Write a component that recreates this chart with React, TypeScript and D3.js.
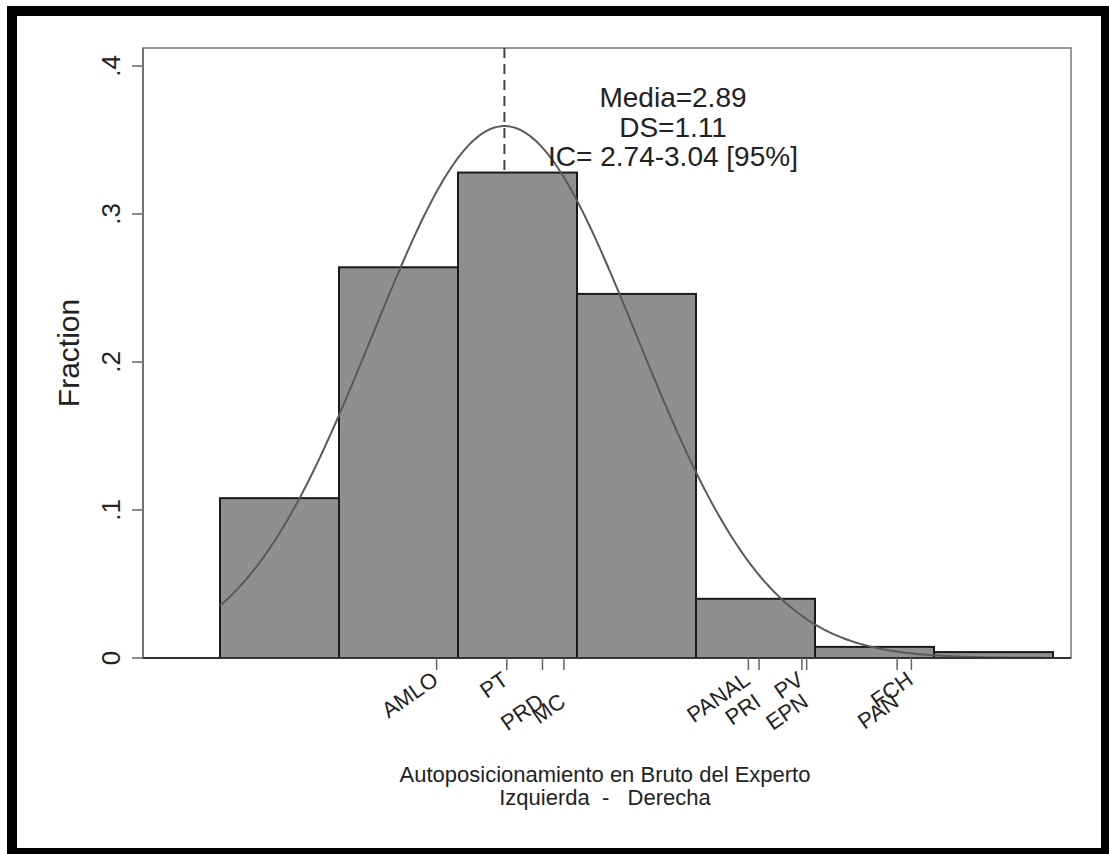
import React from 'react';
import * as d3 from 'd3';

// histogram bins (centered on 1..7, width 1) and their fractions
const binCenters = [1, 2, 3, 4, 5, 6, 7];
const fractions = [0.108, 0.264, 0.328, 0.246, 0.04, 0.0075, 0.004];

// party / candidate placements on the scale
const parties = ['AMLO', 'PT', 'PRD', 'MC', 'PANAL', 'PRI', 'PV', 'EPN', 'PAN', 'FCH'];
const partyPos = [2.32, 2.91, 3.21, 3.39, 4.94, 5.03, 5.39, 5.43, 6.19, 6.31];
const lowerRow = ['PRD', 'MC', 'PRI', 'EPN', 'PAN'];

const yTicks = [0, 0.1, 0.2, 0.3, 0.4];
const yTickLabels = ['0', '.1', '.2', '.3', '.4'];

const media = 2.89;
const ds = 1.11;
const annotation = ['Media=2.89', 'DS=1.11', 'IC= 2.74-3.04 [95%]'];
const xTitle = ['Autoposicionamiento en Bruto del Experto', 'Izquierda  -   Derecha'];
const yTitle = 'Fraction';

const W = 1109;
const H = 854;
const font = '"Liberation Sans", Arial, sans-serif';

export default function App() {
  const left = 143, right = 1071, top = 48, bottom = 658;

  const x = d3.scaleLinear().domain([0.5, 7.5]).range([220, 1053]);
  const y = d3.scaleLinear().domain([0, 0.4]).range([bottom, 66]);

  const binW = 1;
  const normal = (v: number) =>
    (binW / (ds * Math.sqrt(2 * Math.PI))) * Math.exp(-0.5 * ((v - media) / ds) ** 2);
  const curvePts = d3.range(0.5, 7.5001, 0.02).map(v => [v, normal(v)] as [number, number]);
  const line = d3.line<[number, number]>().x(d => x(d[0])).y(d => y(d[1]));

  return (
    <svg width={W} height={H} style={{ position: 'absolute', left: 0, top: 0, display: 'block' }}>
      <rect x={0} y={0} width={W} height={H} fill="#fff" />
      <rect x={7} y={6} width={1102} height={848} fill="#000" />
      <rect x={17} y={16} width={1084} height={832} fill="#fff" />

      {/* plot frame */}
      <rect x={left} y={top} width={right - left} height={bottom - top} fill="none" stroke="#777" strokeWidth={1.5} />

      {/* bars */}
      {binCenters.map((c, i) => (
        <rect key={c}
          x={x(c - binW / 2)} y={y(fractions[i])}
          width={x(c + binW / 2) - x(c - binW / 2)} height={bottom - y(fractions[i])}
          fill="#8f8f8f" stroke="#1a1a1a" strokeWidth={2} />
      ))}

      {/* normal curve */}
      <path d={line(curvePts) || ''} fill="none" stroke="#5a5a5a" strokeWidth={2} />

      {/* mean line */}
      <line x1={x(media)} x2={x(media)} y1={top} y2={y(fractions[2])}
        stroke="#444" strokeWidth={2} strokeDasharray="10,6" />

      {/* x axis */}
      <line x1={left} x2={right} y1={bottom} y2={bottom} stroke="#333" strokeWidth={2} />
      {parties.map((p, i) => {
        const px = x(partyPos[i]);
        const dy = lowerRow.includes(p) ? 22 : 0;
        return (
          <g key={p}>
            <line x1={px} x2={px} y1={bottom} y2={bottom + 12} stroke="#666" strokeWidth={1.5} />
            <text transform={`translate(${px - 6},${bottom + 12 + dy}) rotate(-35)`}
              textAnchor="end" dy="0.72em" fontSize={22} fontFamily={font} fill="#222">{p}</text>
          </g>
        );
      })}

      {/* y axis */}
      <line x1={left} x2={left} y1={top} y2={bottom} stroke="#666" strokeWidth={1.5} />
      {yTicks.map((t, i) => (
        <g key={t}>
          <line x1={left - 11} x2={left} y1={y(t)} y2={y(t)} stroke="#666" strokeWidth={1.5} />
          <text transform={`translate(120,${y(t)}) rotate(-90)`} textAnchor="middle"
            fontSize={26} fontFamily={font} fill="#222">{yTickLabels[i]}</text>
        </g>
      ))}
      <text transform={`translate(79,${(top + bottom) / 2}) rotate(-90)`} textAnchor="middle"
        fontSize={30} fontFamily={font} fill="#222">{yTitle}</text>

      {/* annotation */}
      {annotation.map((s, i) => (
        <text key={s} x={673} y={107 + i * 29.5} textAnchor="middle"
          fontSize={28} fontFamily={font} fill="#222">{s}</text>
      ))}

      {/* x title */}
      {xTitle.map((s, i) => (
        <text key={s} x={605} y={782 + i * 23} textAnchor="middle"
          fontSize={22} fontFamily={font} fill="#222" style={{ whiteSpace: 'pre' }}>{s}</text>
      ))}
    </svg>
  );
}
